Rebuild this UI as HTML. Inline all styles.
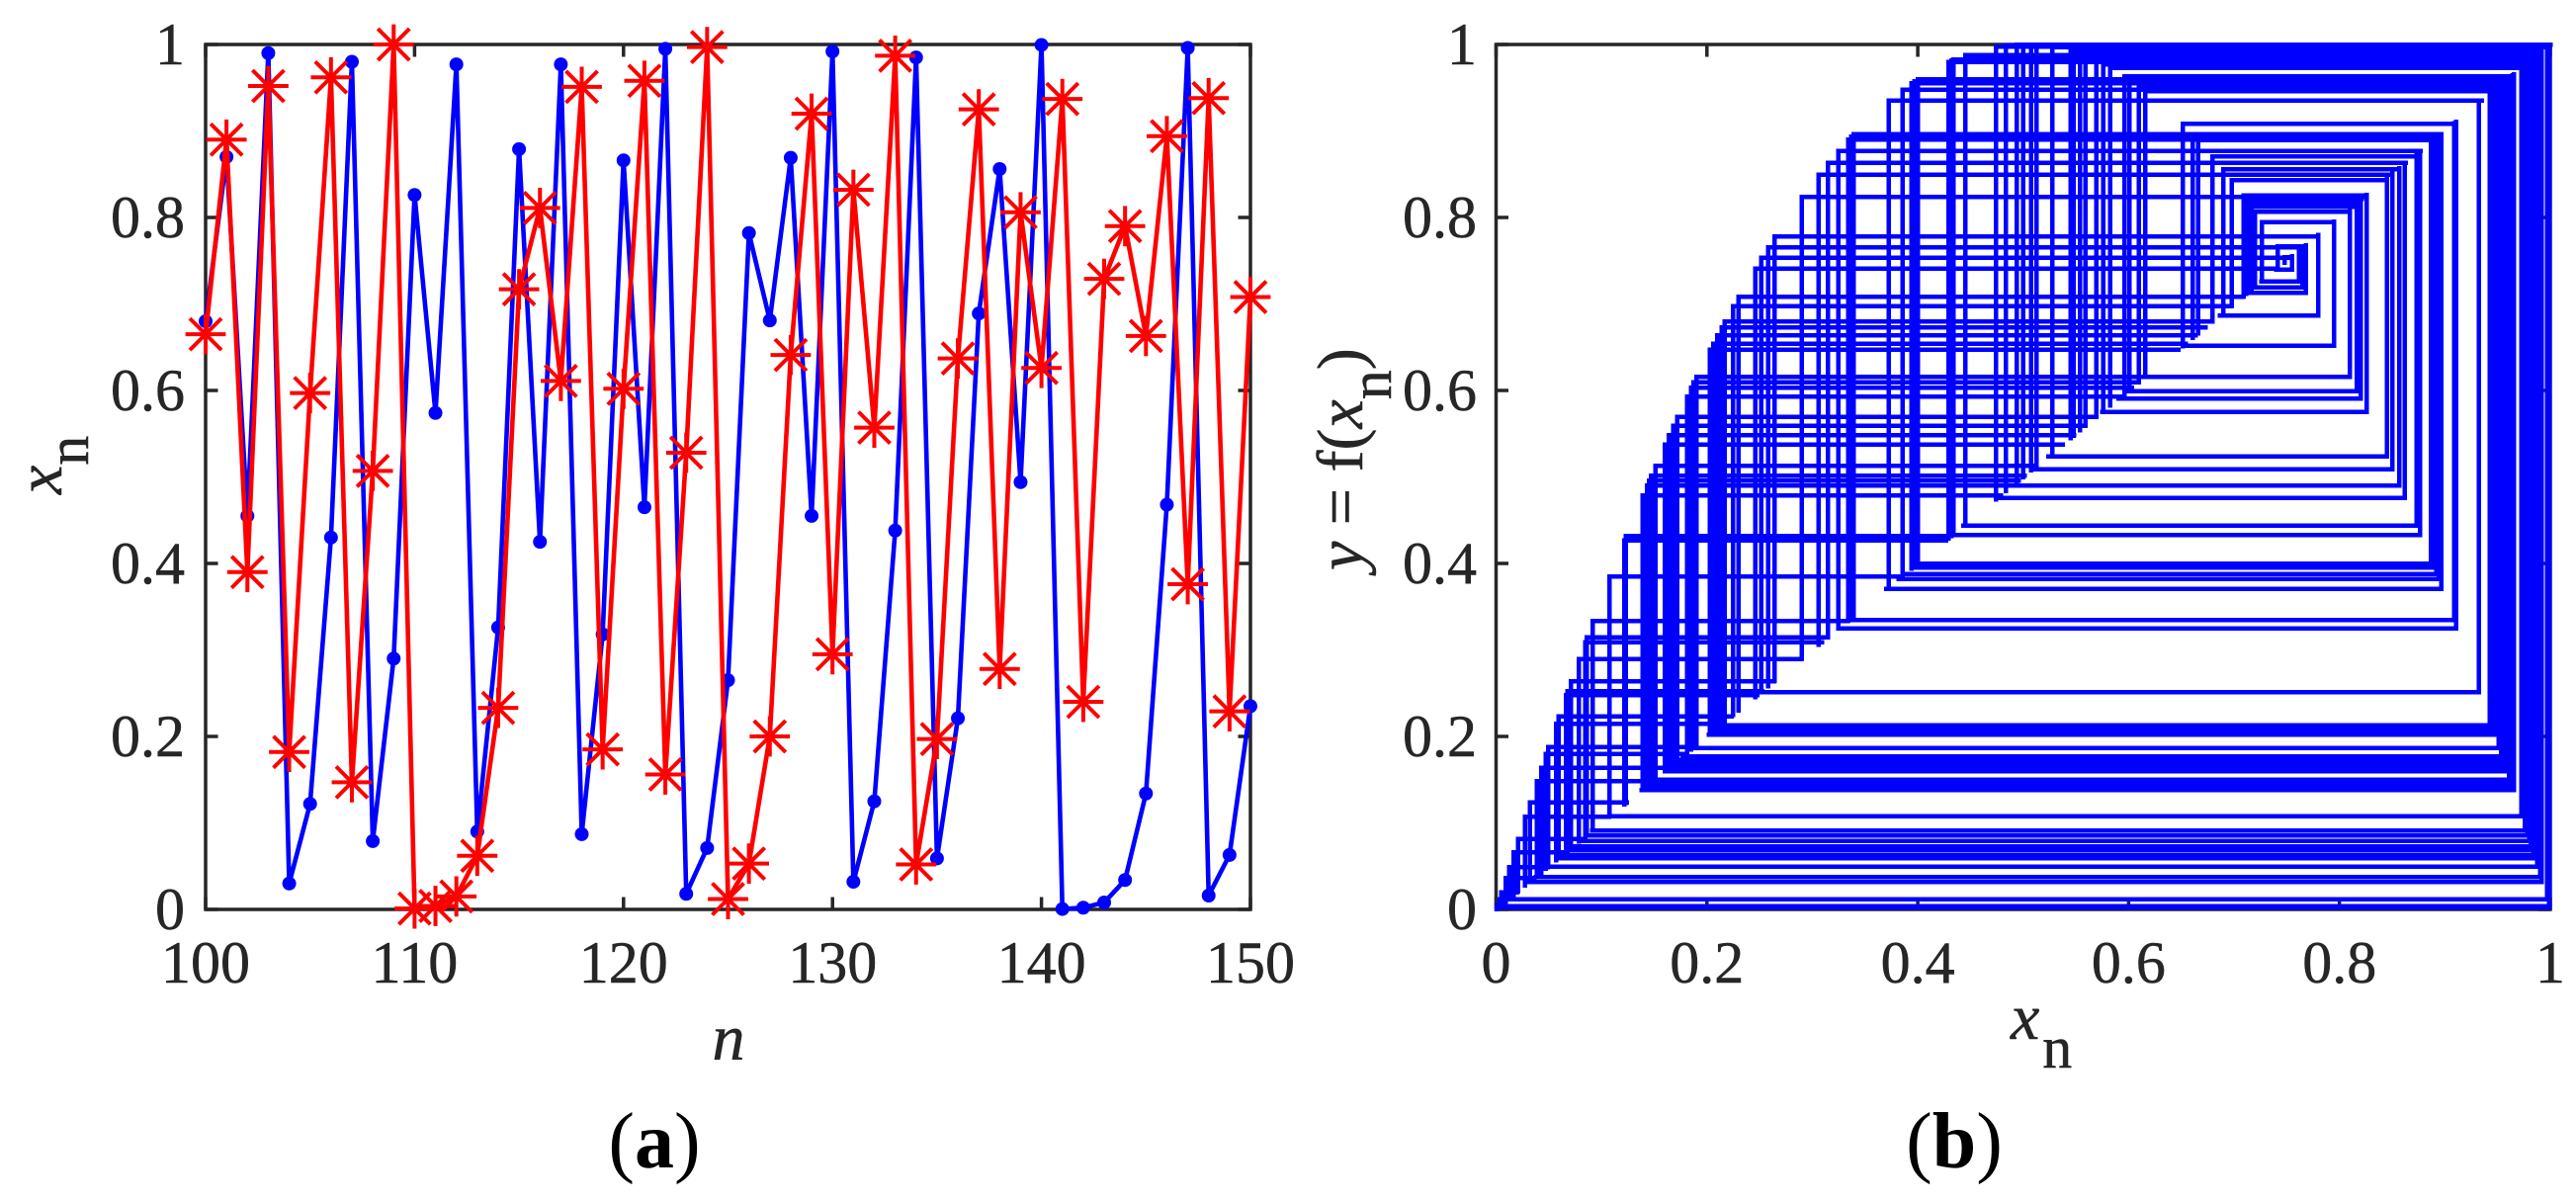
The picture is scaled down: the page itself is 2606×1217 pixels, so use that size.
<!DOCTYPE html>
<html lang="en">
<head>
<meta charset="utf-8">
<title>Logistic map time series and cobweb diagram</title>
<style>
html,body{margin:0;padding:0;background:#fff;}
svg{display:block;}
text{font-family:"Liberation Serif",serif;fill:#262626;stroke:#262626;stroke-width:0.5px;white-space:pre;}
.tick{font-size:60px;}
.title{font-size:66px;}
.sub{font-size:60px;font-style:normal;}
.it{font-style:italic;}
.cap{font-size:80px;fill:#000;stroke:none;}
.capb{font-weight:bold;}
</style>
</head>
<body>
<svg id="figure" xmlns="http://www.w3.org/2000/svg" width="2606" height="1217" viewBox="0 0 2606 1217">
  <rect x="0" y="0" width="2606" height="1217" fill="#fff"/>
  <g id="panel-a"></g>
  <g id="panel-b"></g>

  <text class="title it" x="737" y="1072" text-anchor="middle">n</text>
  <text class="title" transform="translate(62,500) rotate(-90)"><tspan class="it">x</tspan><tspan class="sub" dy="27">n</tspan></text>
  <text class="cap" x="662" y="1181" text-anchor="middle">(<tspan class="capb">a</tspan>)</text>

  <text class="title" x="2034" y="1051"><tspan class="it">x</tspan><tspan class="sub" dy="29" dx="3">n</tspan></text>
  <text class="title" transform="translate(1378,577) rotate(-90)"><tspan class="it">y</tspan> = f(<tspan class="it">x</tspan><tspan class="sub" dy="29">n</tspan><tspan dy="-29">)</tspan></text>
  <text class="cap" x="1977" y="1181" text-anchor="middle">(<tspan class="capb">b</tspan>)</text>
</svg>
<script>
/* ---------- panel (a) data ---------- */
const nValues = [100,101,102,103,104,105,106,107,108,109,110,111,112,113,114,115,116,117,118,119,120,121,122,123,124,125,126,127,128,129,130,131,132,133,134,135,136,137,138,139,140,141,142,143,144,145,146,147,148,149,150];
const blueSeries = [.68,.87,.455,.99,.03,.122,.43,.98,.079,.29,.826,.574,.977,.09,.326,.879,.425,.977,.087,.318,.866,.465,.995,.018,.071,.265,.782,.681,.869,.455,.992,.032,.125,.438,.985,.059,.221,.689,.856,.494,.9995,.0005,.002,.008,.034,.134,.468,.996,.016,.063,.235];
const redSeries = [.665,.89,.39,.952,.182,.597,.962,.147,.507,1.0,.001,.004,.015,.062,.233,.717,.811,.611,.951,.185,.602,.958,.156,.528,.997,.012,.053,.2,.641,.92,.295,.832,.557,.987,.052,.197,.637,.925,.278,.806,.626,.937,.24,.729,.79,.663,.894,.376,.938,.229,.708];
const xTicksA = [100,110,120,130,140,150];
const yTicksA = [0,0.2,0.4,0.6,0.8,1];

/* ---------- panel (b) data: x_n and the f(x_n) each one reaches ---------- */
const cobwebX = [.0005,.0012,.003,.005,.0091,.0124,.0168,.0208,.0275,.032,.0385,.0428,.0472,.0493,.0568,.0593,.0664,.0677,.071,.0785,.0844,.0861,.0918,.1078,.123,.139,.143,.147,.151,.16,.164,.168,.172,.181,.185,.19,.203,.206,.21,.214,.217,.225,.23,.2457,.2516,.258,.2644,.29,.306,.315,.3246,.334,.337,.339,.3725,.3855,.394,.397,.40,.429,.432,.434,.445,.474,.4838,.4938,.5,.5075,.5125,.5275,.545,.5476,.554,.559,.5693,.576,.5827,.596,.601,.6095,.616,.6513,.661,.666,.6797,.6898,.698,.709,.714,.72,.7266,.7416,.748,.755,.7617,.765,.768,.78,.795,.81,.8165,.82,.826,.845,.8504,.857,.862,.873,.8766,.887,.8895,.892,.8945,.8965,.909,.9105,.9324,.9425,.945,.947,.9512,.9535,.956,.9585,.961,.9635,.9655,.9725,.976,.978,.98,.9813,.9825,.984,.985,.9875,.9905,.992,.9971,.999,.9995,.1215,.145,.1875,.7115,.7165,.957,.9545,.9645,.9625,.9435,.946];
const cobwebY = [.002,.0048,.012,.0199,.0361,.049,.0661,.0815,.107,.1239,.1481,.1639,.1799,.1875,.2143,.2232,.248,.2524,.2638,.2893,.3091,.3148,.3335,.3847,.4315,.4787,.4902,.5016,.5128,.5376,.5484,.5591,.5696,.593,.6031,.6156,.6472,.6542,.6636,.6728,.6796,.6975,.7084,.7411,.7532,.7657,.7781,.8236,.8494,.8631,.8769,.8898,.8937,.8963,.9349,.9476,.955,.9576,.96,.9798,.9816,.9826,.9879,.9973,.999,.99985,1,.9998,.9994,.997,.9919,.9909,.9883,.9861,.9808,.9769,.9727,.9631,.9592,.952,.9462,.9084,.8963,.8897,.8708,.8559,.8432,.8253,.8168,.8064,.7946,.7665,.7539,.7399,.7261,.7191,.7127,.6864,.6519,.6156,.5993,.5904,.5749,.5239,.5089,.4902,.4758,.4435,.4327,.40,.395,.388,.3819,.3703,.3348,.3246,.2514,.213,.208,.202,.1863,.177,.169,.160,.150,.144,.138,.1076,.0914,.0857,.0789,.073,.0686,.063,.0591,.0494,.0376,.0317,.0116,.004,.002,.4268,.4959,.6094,.8213,.8122,.165,.173,.141,.147,.2105,.205];
const xTicksB = [0,0.2,0.4,0.6,0.8,1];
const yTicksB = [0,0.2,0.4,0.6,0.8,1];

/* ---------- axis functions ---------- */
const SVGNS = 'http://www.w3.org/2000/svg';
const plotA = {left:208,right:1265,top:45,bottom:920};
const plotB = {left:1513.5,right:2580,top:45,bottom:920};
function xA(v){return plotA.left+(v-100)/(150-100)*(plotA.right-plotA.left);}
function yA(v){return plotA.bottom-v*(plotA.bottom-plotA.top);}
function xB(v){return plotB.left+v*(plotB.right-plotB.left);}
function yB(v){return plotB.bottom-v*(plotB.bottom-plotB.top);}

function make(tag,parent){
  const el=document.createElementNS(SVGNS,tag);
  parent.appendChild(el);
  return el;
}

function drawAxes(parent,p,xTicks,yTicks,fx,fy,yLabelX,suffix){
  const tickLen=12.5;
  const box=make('rect',parent);
  
  
  box.setAttribute('x',p.left);
  box.setAttribute('y',p.top);
  box.setAttribute('width',p.right-p.left);
  box.setAttribute('height',p.bottom-p.top);
  box.setAttribute('fill','none');
  box.setAttribute('stroke','#262626');
  box.setAttribute('stroke-width','3.5');
  xTicks.forEach(function(t){
    const x=fx(t);
    const mark=make('path',parent);
    
    
    mark.setAttribute('d','M'+x+' '+p.bottom+'V'+(p.bottom-tickLen)+'M'+x+' '+p.top+'V'+(p.top+tickLen));
    mark.setAttribute('stroke','#262626');
    mark.setAttribute('stroke-width','3.5');
    const lab=make('text',parent);
    
    
    lab.setAttribute('class','tick');
    lab.setAttribute('x',x);
    lab.setAttribute('y',994);
    lab.setAttribute('text-anchor','middle');
    lab.textContent=String(t);
  });
  yTicks.forEach(function(t){
    const y=fy(t);
    const mark=make('path',parent);
    
    
    mark.setAttribute('d','M'+p.left+' '+y+'H'+(p.left+tickLen)+'M'+p.right+' '+y+'H'+(p.right-tickLen));
    mark.setAttribute('stroke','#262626');
    mark.setAttribute('stroke-width','3.5');
    const lab=make('text',parent);
    
    
    lab.setAttribute('class','tick');
    lab.setAttribute('x',yLabelX);
    lab.setAttribute('y',y+20);
    lab.setAttribute('text-anchor','end');
    lab.textContent=String(t);
  });
}

/* ---------- panel (a) ---------- */
const panelA=document.getElementById('panel-a');
drawAxes(panelA,plotA,xTicksA,yTicksA,xA,yA,187,'a');

const blueLine=make('polyline',panelA);


blueLine.setAttribute('points',nValues.map(function(n,i){return xA(n)+','+yA(blueSeries[i]);}).join(' '));
blueLine.setAttribute('fill','none');
blueLine.setAttribute('stroke','#0000ff');
blueLine.setAttribute('stroke-width','4.6');
blueLine.setAttribute('stroke-linejoin','round');

nValues.forEach(function(n,i){
  const dot=make('circle',panelA);
  
  
  dot.setAttribute('cx',xA(n));
  dot.setAttribute('cy',yA(blueSeries[i]));
  dot.setAttribute('r','7');
  dot.setAttribute('fill','#0000ff');
});

const redLine=make('polyline',panelA);


redLine.setAttribute('points',nValues.map(function(n,i){return xA(n)+','+yA(redSeries[i]);}).join(' '));
redLine.setAttribute('fill','none');
redLine.setAttribute('stroke','#ff0000');
redLine.setAttribute('stroke-width','4.6');
redLine.setAttribute('stroke-linejoin','round');

nValues.forEach(function(n,i){
  const cx=xA(n), cy=yA(redSeries[i]);
  const star=make('path',panelA);
  
  
  star.setAttribute('d','M'+(cx-20.4)+' '+cy+'H'+(cx+20.4)+
    'M'+cx+' '+(cy-20.4)+'V'+(cy+20.4)+
    'M'+(cx-16)+' '+(cy-16)+'L'+(cx+16)+' '+(cy+16)+
    'M'+(cx-16)+' '+(cy+16)+'L'+(cx+16)+' '+(cy-16));
  star.setAttribute('fill','none');
  star.setAttribute('stroke','#ff0000');
  star.setAttribute('stroke-width','4');
});

/* ---------- panel (b) ---------- */
const panelB=document.getElementById('panel-b');
drawAxes(panelB,plotB,xTicksB,yTicksB,xB,yB,1494,'b');

cobwebX.forEach(function(v,i){
  const w=cobwebY[i];
  const step=make('path',panelB);
  
  
  step.setAttribute('d','M'+xB(v)+' '+yB(v)+'L'+xB(v)+' '+yB(w)+'L'+xB(w)+' '+yB(w));
  step.setAttribute('fill','none');
  step.setAttribute('stroke','#0000ff');
  step.setAttribute('stroke-width','4.5');
  step.setAttribute('stroke-linejoin','miter');
  step.setAttribute('stroke-linecap','square');
  step.setAttribute('shape-rendering','crispEdges');
});
</script>
</body>
</html>
